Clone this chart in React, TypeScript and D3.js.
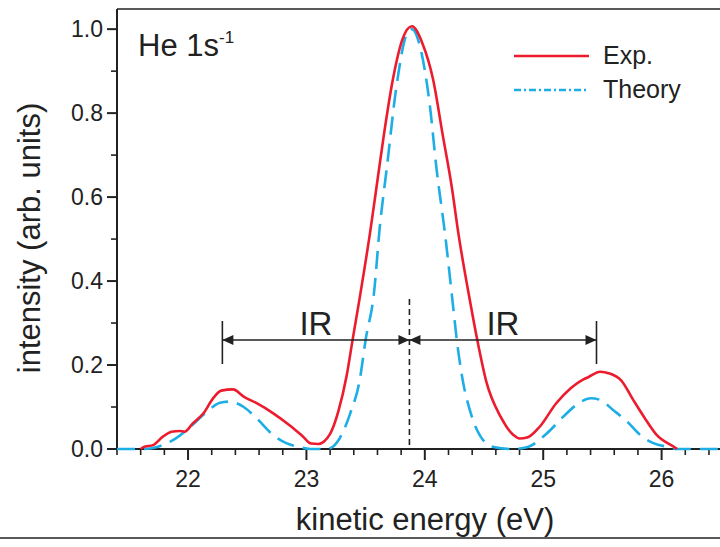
import * as d3 from "d3";

const width = 720;
const height = 547;
const margin = { left: 117, top: 9, right: 0, bottom: 97 };

// kinetic energy (eV) and intensity, experiment
const expEnergy = [21.6, 21.62, 21.71, 21.79, 21.86, 21.93, 21.97, 22.04, 22.13, 22.21, 22.28, 22.38, 22.47, 22.58, 22.72, 22.86, 22.97, 23.04, 23.1, 23.2, 23.27, 23.34, 23.39, 23.45, 23.54, 23.6, 23.65, 23.73, 23.81, 23.89, 23.98, 24.07, 24.15, 24.23, 24.28, 24.38, 24.45, 24.52, 24.64, 24.75, 24.8, 24.87, 24.97, 25.11, 25.23, 25.34, 25.38, 25.48, 25.56, 25.66, 25.76, 25.85, 25.96, 26.11, 26.13];
const expIntensity = [0, 0.004, 0.01, 0.03, 0.041, 0.043, 0.041, 0.061, 0.085, 0.12, 0.139, 0.142, 0.125, 0.109, 0.085, 0.056, 0.03, 0.013, 0.012, 0.036, 0.09, 0.175, 0.26, 0.36, 0.52, 0.64, 0.74, 0.88, 0.975, 1.007, 0.966, 0.88, 0.75, 0.62, 0.52, 0.355, 0.25, 0.16, 0.077, 0.033, 0.025, 0.028, 0.053, 0.109, 0.144, 0.166, 0.171, 0.184, 0.18, 0.163, 0.117, 0.077, 0.033, 0.004, 0];

// theory
const theoryEnergy = [21.4, 21.62, 21.74, 21.9, 22.02, 22.16, 22.27, 22.35, 22.47, 22.58, 22.72, 22.83, 22.95, 23.03, 23.14, 23.2, 23.28, 23.37, 23.45, 23.5, 23.57, 23.62, 23.68, 23.76, 23.85, 23.89, 23.96, 24.04, 24.1, 24.17, 24.23, 24.27, 24.32, 24.38, 24.47, 24.58, 24.74, 24.87, 25.03, 25.17, 25.28, 25.4, 25.48, 25.59, 25.71, 25.82, 25.93, 26.07, 26.13, 26.5];
const theoryIntensity = [0, 0, 0.005, 0.026, 0.053, 0.089, 0.11, 0.113, 0.1, 0.073, 0.033, 0.014, 0.004, 0, 0, 0.002, 0.025, 0.085, 0.164, 0.26, 0.37, 0.53, 0.672, 0.863, 0.99, 1.0, 0.958, 0.824, 0.665, 0.514, 0.363, 0.26, 0.164, 0.093, 0.03, 0.005, 0, 0.005, 0.037, 0.077, 0.105, 0.121, 0.117, 0.093, 0.065, 0.033, 0.014, 0.004, 0, 0];

const xTicks = [22, 23, 24, 25, 26];
const yTicks = [0, 0.2, 0.4, 0.6, 0.8, 1.0];

// IR sideband markers (eV)
const irCenter = 23.87;
const irLeft = 22.29;
const irRight = 25.45;

const red = "#ec1c2e";
const blue = "#1eaee6";
const ink = "#222";
const font = "'Liberation Sans', Arial, Helvetica, sans-serif";

export default function App() {
  const x = d3.scaleLinear().domain([21.4, 26.5]).range([margin.left, 720.8]);
  const y = d3.scaleLinear().domain([0, 1.048]).range([449, margin.top]);

  const line = d3
    .line<[number, number]>()
    .x((d) => x(d[0]))
    .y((d) => y(d[1]))
    .curve(d3.curveMonotoneX);

  const expPts = expEnergy.map((e, i) => [e, expIntensity[i]] as [number, number]);
  const thPts = theoryEnergy.map((e, i) => [e, theoryIntensity[i]] as [number, number]);

  const minorX = d3.range(21.4, 26.5, 0.2).filter((v) => Math.abs(v - Math.round(v)) > 0.05);
  const minorY = d3.range(0.1, 1.0, 0.2);

  const y0 = y(0);
  const arrowY = 340;
  const head = (tip: number, dir: number) =>
    `M${tip},${arrowY} L${tip - dir * 11},${arrowY - 5} L${tip - dir * 11},${arrowY + 5} Z`;

  return (
    <svg
      width={width}
      height={height}
      style={{ position: "absolute", left: 0, top: 0, background: "#fff" }}
      fontFamily={font}
    >
      {/* frame */}
      <line x1={margin.left} x2={width} y1={margin.top} y2={margin.top} stroke={ink} strokeWidth={1.6} />
      <line x1={margin.left} x2={margin.left} y1={margin.top} y2={y0} stroke={ink} strokeWidth={2} />
      <line x1={margin.left - 1} x2={width} y1={y0} y2={y0} stroke={ink} strokeWidth={2} />
      <line x1={0} x2={width} y1={538} y2={538} stroke={ink} strokeWidth={1.5} />

      {/* x ticks */}
      {xTicks.map((t) => (
        <g key={"xt" + t}>
          <line x1={x(t)} x2={x(t)} y1={y0} y2={y0 + 11} stroke={ink} strokeWidth={2} />
          <text x={x(t)} y={487} textAnchor="middle" fontSize={23} fill={ink}>
            {t}
          </text>
        </g>
      ))}
      {minorX.map((t) => (
        <line key={"xm" + t} x1={x(t)} x2={x(t)} y1={y0} y2={y0 + 6} stroke={ink} strokeWidth={1.6} />
      ))}

      {/* y ticks */}
      {yTicks.map((t) => (
        <g key={"yt" + t}>
          <line x1={margin.left - 10} x2={margin.left} y1={y(t)} y2={y(t)} stroke={ink} strokeWidth={2} />
          <text x={margin.left - 6 - 8} y={y(t)} dy="0.35em" textAnchor="end" fontSize={23} fill={ink}>
            {t.toFixed(1)}
          </text>
        </g>
      ))}
      {minorY.map((t) => (
        <line key={"ym" + t} x1={margin.left - 6} x2={margin.left} y1={y(t)} y2={y(t)} stroke={ink} strokeWidth={1.6} />
      ))}

      {/* axis titles */}
      <text x={425} y={530} textAnchor="middle" fontSize={31} fill={ink}>
        kinetic energy (eV)
      </text>
      <text transform="translate(40,238) rotate(-90)" textAnchor="middle" fontSize={31} fill={ink}>
        intensity (arb. units)
      </text>

      {/* curves */}
      <path d={line(thPts) ?? ""} fill="none" stroke={blue} strokeWidth={2.6} strokeDasharray="18,9" />
      <path d={line(expPts) ?? ""} fill="none" stroke={red} strokeWidth={2.6} />

      {/* IR annotation */}
      <line x1={x(irCenter)} x2={x(irCenter)} y1={299} y2={447} stroke={ink} strokeWidth={1.6} strokeDasharray="6,4" />
      <line x1={x(irLeft)} x2={x(irLeft)} y1={321} y2={364} stroke={ink} strokeWidth={1.6} />
      <line x1={x(irRight)} x2={x(irRight)} y1={321} y2={364} stroke={ink} strokeWidth={1.6} />
      <line x1={x(irLeft)} x2={x(irRight)} y1={arrowY} y2={arrowY} stroke={ink} strokeWidth={1.6} />
      <path d={head(x(irLeft), -1)} fill={ink} />
      <path d={head(x(irCenter), 1)} fill={ink} />
      <path d={head(x(irCenter), -1)} fill={ink} />
      <path d={head(x(irRight), 1)} fill={ink} />
      <text x={(x(irLeft) + x(irCenter)) / 2} y={335} textAnchor="middle" fontSize={33} fill={ink}>
        IR
      </text>
      <text x={(x(irCenter) + x(irRight)) / 2} y={335} textAnchor="middle" fontSize={33} fill={ink}>
        IR
      </text>

      {/* label */}
      <text x={138} y={56} fontSize={31} fill={ink}>
        He 1s
        <tspan fontSize={17} dy={-13}>
          -1
        </tspan>
      </text>

      {/* legend */}
      <line x1={514} x2={589} y1={56} y2={56} stroke={red} strokeWidth={2.4} />
      <text x={603} y={64} fontSize={25} fill={ink}>
        Exp.
      </text>
      <line x1={514} x2={589} y1={90} y2={90} stroke={blue} strokeWidth={2.4} strokeDasharray="7,3,2,3" />
      <text x={603} y={98} fontSize={25} fill={ink}>
        Theory
      </text>
    </svg>
  );
}
